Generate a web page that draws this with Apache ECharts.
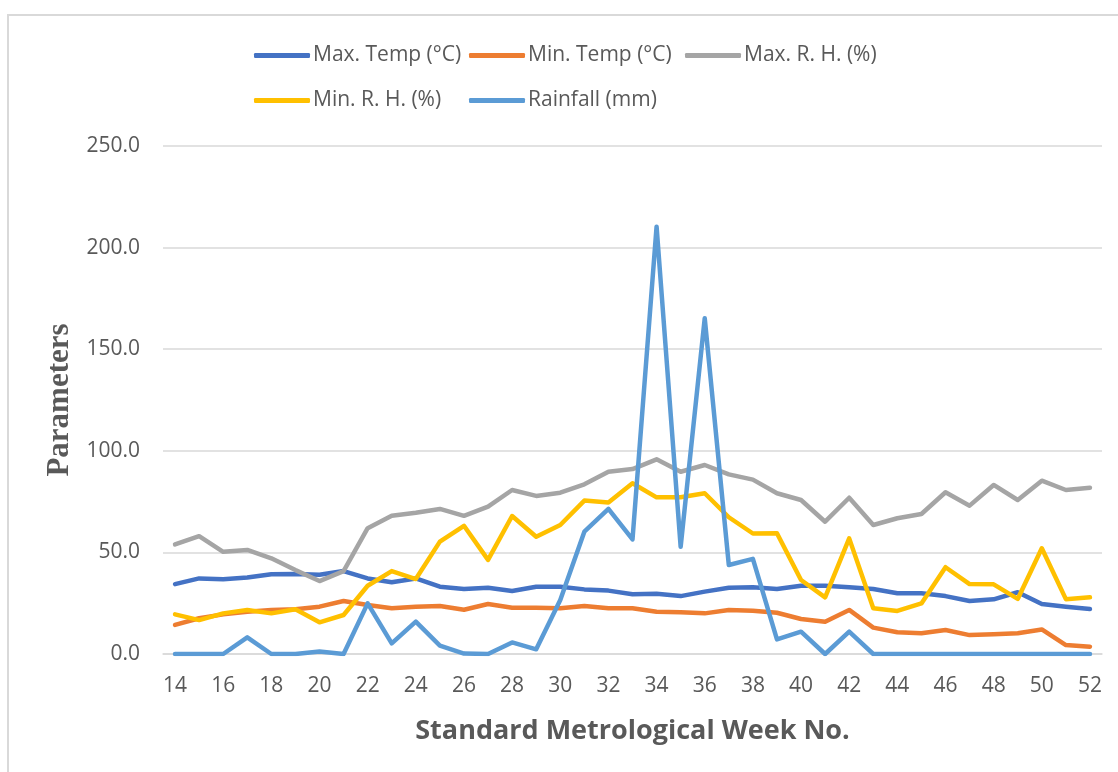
<!DOCTYPE html>
<html><head><meta charset="utf-8">
<script src="https://cdn.jsdelivr.net/npm/echarts@6/dist/echarts.min.js"></script>
<style>html,body{margin:0;padding:0;background:#fff}#c{width:1118px;height:772px}</style>
</head><body><div id="c"></div>
<script>
const weeks = [14,15,16,17,18,19,20,21,22,23,24,25,26,27,28,29,30,31,32,33,34,35,36,37,38,39,40,41,42,43,44,45,46,47,48,49,50,51,52];
const maxTemp = [34.4,37.2,36.8,37.6,39.2,39.4,39.0,40.8,37.2,35.3,37.2,33.1,32.0,32.6,31.0,33.1,33.1,31.8,31.2,29.4,29.6,28.5,30.7,32.6,32.8,32.0,33.6,33.6,32.8,32.0,29.9,29.9,28.5,26.1,26.9,30.4,24.6,23.3,22.1];
const minTemp = [14.3,17.6,19.5,20.8,21.7,22.0,23.3,26.1,24.1,22.5,23.3,23.6,21.8,24.6,22.8,22.8,22.5,23.6,22.5,22.5,20.8,20.5,20.0,21.7,21.3,20.3,17.2,15.9,21.7,13.0,10.7,10.2,11.8,9.3,9.7,10.2,12.1,4.4,3.6];
const maxRH = [53.9,58.0,50.3,51.2,47.1,41.3,35.9,40.8,61.9,68.0,69.5,71.4,68.0,72.5,80.7,77.8,79.4,83.5,89.7,91.0,95.8,89.7,93.0,88.4,85.8,79.1,75.8,65.1,76.9,63.5,66.8,68.9,79.6,73.0,83.2,75.8,85.3,80.7,81.8];
const minRH = [19.5,16.7,20.0,21.7,20.0,22.0,15.6,19.2,33.6,40.8,36.9,55.3,63.1,46.3,67.9,57.7,63.5,75.5,74.5,84.0,77.1,77.1,79.1,67.3,59.3,59.4,36.4,27.9,56.9,22.5,21.2,24.9,42.7,34.4,34.3,27.1,52.0,27.0,27.9];
const rainfall = [0,0,0,8.2,0,0,1.2,0,24.9,5.2,15.9,4.1,0.2,0,5.7,2.3,26.6,60.2,71.4,56.4,210.3,52.8,165.2,43.8,46.8,7.2,11.0,0,11.0,0,0,0,0,0,0,0,0,0,0];
const names = ['Max. Temp (°C)','Min. Temp (°C)','Max. R. H. (%)','Min. R. H. (%)','Rainfall (mm)'];
const colors = ['#4472C4','#ED7D31','#A5A5A5','#FFC000','#5B9BD5'];
const seriesData = [maxTemp,minTemp,maxRH,minRH,rainfall];

const chart = echarts.init(document.getElementById('c'), null, {renderer:'canvas'});
const font = '"Open Sans", "Noto Sans", sans-serif';
const legendPos = [[254,45],[469,45],[685,45],[254,90],[469,90]];
const legends = names.map((n,i) => ({
  left: legendPos[i][0], top: legendPos[i][1], data: [n], padding: 0,
  itemWidth: 56, itemHeight: 5, icon: 'roundRect',
  textStyle: {fontFamily: font, fontSize: 21, color: '#595959', padding:[0,0,0,-2]}
}));
chart.setOption({
  animation: false,
  backgroundColor: '#fff',
  color: colors,
  graphic: [{type:'rect', shape:{x:8, y:15, width:1200, height:800}, style:{fill:'none', stroke:'#d9d9d9', lineWidth:2}, silent:true}],
  legend: legends,
  grid: {left: 163, right: 16, top: 146, bottom: 118},
  xAxis: {
    type: 'category', data: weeks.map(String), boundaryGap: true,
    axisLine: {lineStyle: {color: '#d9d9d9', width: 1.5}},
    axisTick: {show: false},
    axisLabel: {interval: 1, color: '#595959', fontFamily: font, fontSize: 21, margin: 22},
    name: 'Standard Metrological Week No.', nameLocation: 'middle', nameGap: 64,
    nameTextStyle: {fontFamily: font, fontWeight: 'bold', fontSize: 27, color: '#595959'}
  },
  yAxis: {
    type: 'value', min: 0, max: 250, interval: 50,
    axisLine: {show: false}, axisTick: {show: false},
    splitLine: {lineStyle: {color: '#d9d9d9', width: 1.5}},
    axisLabel: {color: '#595959', fontFamily: font, fontSize: 21, margin: 23, formatter: v => v.toFixed(1)},
    name: 'Parameters', nameLocation: 'middle', nameGap: 84, nameRotate: 90,
    nameTextStyle: {fontFamily: '"Liberation Serif", serif', fontWeight: 'bold', fontSize: 31, color: '#595959'}
  },
  series: names.map((n,i) => ({
    name: n, type: 'line', data: seriesData[i], showSymbol: false, symbol: 'none',
    lineStyle: {width: 4.5, color: colors[i], cap: 'round', join: 'round'},
    itemStyle: {color: colors[i]}
  }))
});
</script></body></html>
